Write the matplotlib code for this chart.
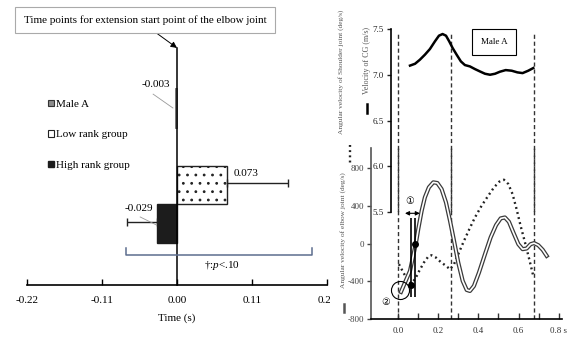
import numpy as np
import matplotlib.pyplot as plt
import matplotlib.patheffects as pe
from matplotlib.patches import Patch
from matplotlib.lines import Line2D

plt.rcParams['font.family'] = ['Liberation Serif', 'DejaVu Serif', 'DejaVu Sans', 'Noto Sans CJK JP']
plt.rcParams['mathtext.fontset'] = 'custom'
plt.rcParams['mathtext.rm'] = 'Liberation Serif'
plt.rcParams['mathtext.it'] = 'Liberation Serif:italic'
plt.rcParams['hatch.linewidth'] = 0.8

# left: extension start time of the elbow joint
groups = ['Male A', 'Low rank group', 'High rank group']
mean_time = [-0.003, 0.073, -0.029]
sd_time = [0.0, 0.090, 0.044]
value_labels = ['-0.003', '0.073', '-0.029']
time_ticks = [-0.22, -0.11, 0.0, 0.11, 0.22]

# right: Male A time series
cg_t = [0.06, 0.085, 0.109, 0.134, 0.159, 0.184, 0.204, 0.222, 0.239, 0.255, 0.272, 0.292,
        0.313, 0.333, 0.358, 0.383, 0.408, 0.433, 0.458, 0.483, 0.507, 0.536, 0.566, 0.594,
        0.62, 0.648, 0.673]
cg_v = [7.10, 7.12, 7.164, 7.219, 7.281, 7.365, 7.427, 7.445, 7.427, 7.365, 7.292, 7.219,
        7.146, 7.106, 7.091, 7.062, 7.036, 7.011, 7.0, 7.011, 7.033, 7.051, 7.044, 7.026,
        7.018, 7.044, 7.073]

elbow_t = [0.015, 0.035, 0.06, 0.076, 0.09, 0.101, 0.118, 0.134, 0.154, 0.176, 0.196, 0.217,
           0.239, 0.259, 0.279, 0.30, 0.322, 0.342, 0.358, 0.378, 0.403, 0.433, 0.461, 0.488,
           0.511, 0.532, 0.552, 0.574, 0.599, 0.62, 0.64, 0.66, 0.677, 0.698, 0.72, 0.74]
elbow_v = [-513, -414, -290, -131, 11, 152, 347, 489, 595, 648, 641, 577,
           435, 241, 28, -202, -396, -492, -503, -450, -308, -113, 64, 195,
           266, 276, 230, 117, -7, -60, -53, -7, 4, -18, -67, -131]

shoulder_t = [0.005, 0.027, 0.046, 0.065, 0.085, 0.106, 0.129, 0.151, 0.167, 0.189, 0.212,
              0.239, 0.259, 0.279, 0.30, 0.325, 0.355, 0.383, 0.416, 0.449, 0.478, 0.504,
              0.527, 0.549, 0.57, 0.59, 0.61, 0.632, 0.653, 0.673]
shoulder_v = [-219, -308, -379, -421, -379, -290, -202, -138, -124, -149, -195,
              -237, -273, -219, -113, 11, 152, 276, 400, 506, 595, 655,
              676, 630, 524, 365, 188, 11, -166, -343]

phase_t = [0.0, 0.264, 0.677]
event_t = [0.065, 0.085]
event_v = [-445, 0]

fig = plt.figure(figsize=(5.75, 3.4), dpi=100)

# ---------------- left panel ----------------
ax = fig.add_axes([27/575, 55/340, 300/575, 285/340])
ax.set_facecolor('none')
rows = [0, 2, 3]
ax.barh(rows[0], mean_time[0], height=1.04, color='#8c8c8c', edgecolor='#666666', lw=0.6)
ax.barh(rows[1], mean_time[1], height=1.0, facecolor='white', edgecolor='#222222',
        hatch='..', lw=1.0)
ax.barh(rows[2], mean_time[2], height=1.0, color='#1c1c1c', edgecolor='#1c1c1c')
ax.errorbar(mean_time[1], rows[1] - 0.05, xerr=[[0], [sd_time[1]]], fmt='none',
            ecolor='#222222', elinewidth=1, capsize=3)
ax.errorbar(mean_time[2], rows[2] - 0.05, xerr=[[sd_time[2]], [0]], fmt='none',
            ecolor='#222222', elinewidth=1, capsize=3)

ax.set_xlim(-0.22, 0.22)
ax.set_ylim(4.597, -2.805)
ax.plot([0, 0], [-1.56, 4.597], color='black', lw=1.1, clip_on=False)

ax.annotate('Time points for extension start point of the elbow joint',
            xy=(0, -1.56), xytext=(-0.047, -2.29), ha='center', va='center', fontsize=8,
            bbox=dict(boxstyle='square,pad=0.75', fc='white', ec='#aaaaaa', lw=0.8),
            arrowprops=dict(arrowstyle='-|>', color='black', lw=0.7, relpos=(0.5, 0),
                            shrinkA=0, shrinkB=0, mutation_scale=9),
            annotation_clip=False)

handles = [Patch(fc='#8c8c8c', ec='#333333', lw=0.8),
           Patch(fc='white', ec='#222222', lw=0.8),
           Patch(fc='#1c1c1c', ec='#1c1c1c')]
ax.legend(handles, groups, loc='upper left', bbox_to_anchor=(0.07, 0.65), frameon=False,
          fontsize=8, handlelength=0.55, handleheight=0.55, handletextpad=0.2,
          labelspacing=1.9, borderpad=0, borderaxespad=0)

ax.text(-0.031, -0.6, value_labels[0], ha='center', va='center', fontsize=8)
ax.plot([-0.035, -0.006], [-0.36, 0], color='#999999', lw=0.6)
ax.text(0.101, 1.69, value_labels[1], ha='center', va='center', fontsize=8)
ax.text(-0.056, 2.62, value_labels[2], ha='center', va='center', fontsize=8)
ax.plot([-0.054, -0.03], [2.83, 3.04], color='#999999', lw=0.6)

ax.plot([-0.075, -0.075, 0.198, 0.198], [3.64, 3.82, 3.82, 3.64], color='#5d6d8e', lw=1.1)
ax.text(0.066, 4.08, r'†:$\mathit{p}$<.10', ha='center', va='center', fontsize=8)

for s in ['left', 'top', 'right']:
    ax.spines[s].set_visible(False)
ax.spines['bottom'].set_linewidth(1.2)
ax.set_yticks([])
ax.set_xticks(time_ticks)
ax.set_xticklabels(['%.2f' % v for v in time_ticks])
ax.tick_params(axis='x', direction='in', length=4, width=1, pad=8, labelsize=8)
ax.set_xlabel('Time (s)', fontsize=8, labelpad=6)

# white cover for the right half
cover = fig.add_axes([330/575, 0, 245/575, 1], zorder=1)
cover.set_xticks([])
cover.set_yticks([])
for s in cover.spines.values():
    s.set_visible(False)
cover.set_facecolor('white')

# ---------------- right panel: elbow / shoulder ----------------
xlim_r = (-0.134, 0.816)
ax_e = fig.add_axes([371/575, 21/340, 191/575, 171/340], zorder=2)
ax_e.set_facecolor('none')
ax_e.set_xlim(*xlim_r)
ax_e.set_ylim(-800, 1012)
for t in phase_t:
    ax_e.axvline(t, color='#333333', ls=(0, (3, 2)), lw=1)
ax_e.plot(shoulder_t, shoulder_v, color='#222222', lw=1.7, ls=(0, (0.8, 1.4)))
ax_e.plot(elbow_t, elbow_v, color='white', lw=1.2, solid_joinstyle='round',
          path_effects=[pe.Stroke(linewidth=3.0, foreground='#3a3a3a'), pe.Normal()])
ax_e.vlines(event_t, -567, 270, color='black', lw=1.2)
ax_e.plot(event_t, event_v, 'o', color='black', ms=4)
ax_e.annotate('', xy=(0.035, 320), xytext=(0.109, 320),
              arrowprops=dict(arrowstyle='<|-|>', lw=0.8, mutation_scale=6, shrinkA=0,
                              shrinkB=0, color='black'))
ax_e.text(0.06, 443, '①', fontsize=7, ha='center', va='center')
ax_e.plot([0.012], [-493], 'o', ms=13, mfc='none', mec='black', mew=0.8)
ax_e.text(-0.06, -620, '②', fontsize=7, ha='center', va='center', clip_on=False)

for s in ['top', 'right']:
    ax_e.spines[s].set_visible(False)
ax_e.spines['left'].set_color('#555555')
ax_e.spines['left'].set_linewidth(1.2)
ax_e.spines['bottom'].set_linewidth(1.2)
ax_e.set_xticks([0, 0.2, 0.4, 0.6, 0.8])
ax_e.set_xticklabels(['0.0', '0.2', '0.4', '0.6', '0.8 s'])
ax_e.set_xticks([0.1, 0.3, 0.5, 0.7], minor=True)
ax_e.tick_params(axis='x', which='both', direction='in', length=4, width=1,
                 labelsize=6.5, pad=6, colors='#333333')
ax_e.set_yticks([-800, -400, 0, 400, 800])
ax_e.set_yticklabels(['-800', '-400', '0', '400', '800'])
ax_e.tick_params(axis='y', direction='out', length=3, width=1, labelsize=6.5, pad=2,
                 colors='#444444')

# ---------------- right panel: CG velocity ----------------
ax_c = fig.add_axes([371/575, 128/340, 191/575, 183/340], zorder=3)
ax_c.set_facecolor('none')
ax_c.set_xlim(*xlim_r)
ax_c.set_ylim(5.5, 7.5)
for t in phase_t:
    ax_c.axvline(t, ymax=0.985, color='#333333', ls=(0, (3, 2)), lw=1)
ax_c.plot(cg_t, cg_v, color='black', lw=1.8)
ax_c.text(0.478, 7.358, 'Male A', ha='center', va='center', fontsize=6.5,
          bbox=dict(boxstyle='square,pad=1.0', fc='white', ec='black', lw=0.8))
for s in ['top', 'right', 'bottom']:
    ax_c.spines[s].set_visible(False)
ax_c.spines['left'].set_position(('data', -0.035))
ax_c.spines['left'].set_linewidth(1.2)
ax_c.set_xticks([])
ax_c.set_yticks([5.5, 6.0, 6.5, 7.0, 7.5])
ax_c.set_yticklabels(['5.5', '6.0', '6.5', '7.0', '7.5'])
ax_c.tick_params(axis='y', direction='out', length=3, width=1, labelsize=6.5, pad=2,
                 colors='#222222')

# side labels with line keys
fig.text(341/575, 1 - 72/340, 'Angular velocity of Shoulder joint (deg/s)', rotation=90,
         ha='center', va='center', fontsize=5.3, color='#555555')
fig.text(367/575, 1 - 61/340, 'Velocity of CG (m/s)', rotation=90,
         ha='center', va='center', fontsize=5.8, color='#555555')
fig.text(343/575, 1 - 230/340, 'Angular velocity of elbow joint (deg/s)', rotation=90,
         ha='center', va='center', fontsize=5.3, color='#555555')
fig.add_artist(Line2D([350/575] * 2, [1 - 145/340, 1 - 163/340], ls=(0, (0.8, 1.4)),
                      lw=1.7, color='#222222'))
fig.add_artist(Line2D([367/575] * 2, [1 - 104/340, 1 - 113/340], lw=1.8, color='black'))
fig.add_artist(Line2D([344/575] * 2, [1 - 304/340, 1 - 312/340], lw=1.8, color='#555555'))

fig.savefig('out.png', dpi=100, facecolor='white')
